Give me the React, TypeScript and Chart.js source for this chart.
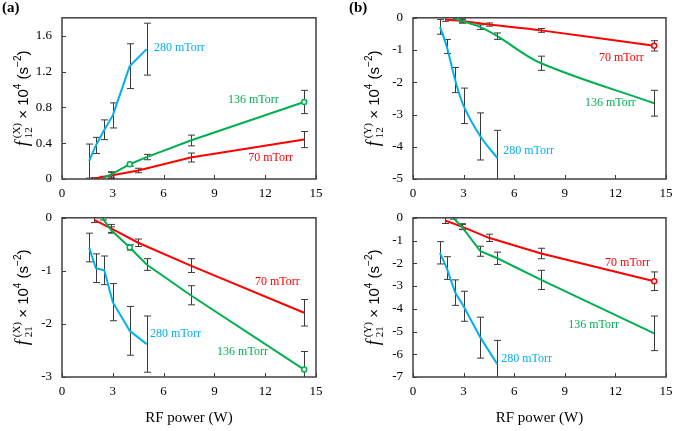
import React, { useEffect, useRef } from "react";
import { Chart, registerables } from "chart.js";
Chart.register(...registerables);

// ---- Data ----
const X_70 = [1.9, 2.9, 4.5, 7.6, 14.3];
const X_136 = [2.4, 2.9, 4, 5, 7.6, 14.3];
const X_280 = [1.6, 2, 2.5, 3, 4, 5];
const X_TICKS = [0, 3, 6, 9, 12, 15];
const SERIES_NAMES = ["70 mTorr", "136 mTorr", "280 mTorr"];

// (a) top: f12(X)
const F12X_70 = [0.005, 0.04, 0.095, 0.24, 0.44];
const F12X_70_ERR = [0.01, 0.035, 0.025, 0.05, 0.09];
const F12X_136 = [0.01, 0.05, 0.165, 0.245, 0.43, 0.86];
const F12X_136_ERR = [0.02, 0.03, 0.02, 0.03, 0.06, 0.13];
const F12X_280 = [0.2, 0.375, 0.55, 0.71, 1.26, 1.45];
const F12X_280_ERR = [0.19, 0.09, 0.11, 0.14, 0.25, 0.29];

// (b) top: f12(Y)
const F12Y_70 = [-0.05, -0.1, -0.21, -0.39, -0.87];
const F12Y_70_ERR = [0.06, 0.06, 0.05, 0.06, 0.16];
const F12Y_136 = [-0.02, -0.1, -0.29, -0.57, -1.41, -2.65];
const F12Y_136_ERR = [0.04, 0.06, 0.07, 0.1, 0.22, 0.4];
const F12Y_280 = [-0.28, -0.89, -1.93, -2.73, -3.68, -4.35];
const F12Y_280_ERR = [0.23, 0.22, 0.39, 0.55, 0.73, 0.86];

// (a) bottom: f21(X)
const F21X_70 = [-0.04, -0.2, -0.47, -0.9, -1.79];
const F21X_70_ERR = [0.05, 0.075, 0.07, 0.13, 0.25];
const F21X_136 = [-0.01, -0.23, -0.56, -0.88, -1.46, -2.86];
const F21X_136_ERR = [0.03, 0.06, 0.05, 0.11, 0.18, 0.34];
const F21X_280 = [-0.56, -0.95, -0.99, -1.59, -2.13, -2.38];
const F21X_280_ERR = [0.27, 0.27, 0.27, 0.35, 0.46, 0.53];

// (b) bottom: f21(Y)
const F21Y_70 = [-0.12, -0.39, -0.88, -1.57, -2.79];
const F21Y_70_ERR = [0.13, 0.13, 0.16, 0.23, 0.41];
const F21Y_136 = [-0.01, -0.4, -1.47, -1.78, -2.73, -5.08];
const F21Y_136_ERR = [0.05, 0.1, 0.22, 0.27, 0.42, 0.76];
const F21Y_280 = [-1.54, -2.21, -3.29, -3.89, -5.27, -6.44];
const F21Y_280_ERR = [0.49, 0.5, 0.56, 0.66, 0.9, 1.05];

// ---- Styles ----
const C70 = "#FF0000";
const C136 = "#00B050";
const C280 = "#00B0F0";
const SERIF = "'Liberation Serif', 'Times New Roman', serif";
const SANS = "'Liberation Sans', Arial, sans-serif";

type Series = {
  name: string;
  x: number[];
  y: number[];
  err: number[];
  color: string;
  markers: number[];
  labelAt: [number, number];
};

type PanelDef = {
  letter?: string;
  left: number;
  top: number;
  width: number;
  height: number;
  area: { l: number; r: number; t: number; b: number };
  yMin: number;
  yMax: number;
  yStep: number;
  smooth: boolean;
  xTitle: boolean;
  sup: string;
  sub: string;
  series: Series[];
};

const mk = (name: string, x: number[], y: number[], err: number[], color: string, markers: number[], labelAt: [number, number]): Series => ({ name, x, y, err, color, markers, labelAt });

const PANELS: PanelDef[] = [
  {
    letter: "(a)", left: 0, top: 0, width: 340, height: 200,
    area: { l: 62, r: 316, t: 11, b: 179 },
    yMin: 0, yMax: 1.8, yStep: 0.4, smooth: false, xTitle: false, sup: "(X)", sub: "12",
    series: [
      mk(SERIES_NAMES[2], X_280, F12X_280, F12X_280_ERR, C280, [], [5.43, 1.46]),
      mk(SERIES_NAMES[1], X_136, F12X_136, F12X_136_ERR, C136, [2, 5], [9.8, 0.88]),
      mk(SERIES_NAMES[0], X_70, F12X_70, F12X_70_ERR, C70, [], [11.0, 0.236]),
    ],
  },
  {
    letter: "(b)", left: 340, top: 0, width: 345, height: 200,
    area: { l: 73, r: 326, t: 11, b: 179 },
    yMin: -5, yMax: 0, yStep: 1, smooth: true, xTitle: false, sup: "(Y)", sub: "12",
    series: [
      mk(SERIES_NAMES[2], X_280, F12Y_280, F12Y_280_ERR, C280, [], [5.35, -4.14]),
      mk(SERIES_NAMES[1], X_136, F12Y_136, F12Y_136_ERR, C136, [], [10.2, -2.65]),
      mk(SERIES_NAMES[0], X_70, F12Y_70, F12Y_70_ERR, C70, [4], [11.03, -1.25]),
    ],
  },
  {
    left: 0, top: 200, width: 340, height: 231,
    area: { l: 62, r: 316, t: 9, b: 177 },
    yMin: -3, yMax: 0, yStep: 1, smooth: false, xTitle: true, sup: "(X)", sub: "21",
    series: [
      mk(SERIES_NAMES[2], X_280, F21X_280, F21X_280_ERR, C280, [], [5.2, -2.19]),
      mk(SERIES_NAMES[1], X_136, F21X_136, F21X_136_ERR, C136, [2, 5], [9.16, -2.53]),
      mk(SERIES_NAMES[0], X_70, F21X_70, F21X_70_ERR, C70, [], [11.4, -1.21]),
    ],
  },
  {
    left: 340, top: 200, width: 345, height: 231,
    area: { l: 73, r: 326, t: 10, b: 177 },
    yMin: -7, yMax: 0, yStep: 1, smooth: false, xTitle: true, sup: "(Y)", sub: "21",
    series: [
      mk(SERIES_NAMES[2], X_280, F21Y_280, F21Y_280_ERR, C280, [], [5.23, -6.18]),
      mk(SERIES_NAMES[1], X_136, F21Y_136, F21Y_136_ERR, C136, [], [9.2, -4.7]),
      mk(SERIES_NAMES[0], X_70, F21Y_70, F21Y_70_ERR, C70, [4], [11.39, -1.97]),
    ],
  },
];

function fmt(v: number) {
  if (Math.abs(v) < 1e-9) return "0";
  return String(parseFloat(v.toFixed(2)));
}

function drawYTitle(ctx: CanvasRenderingContext2D, cx: number, cy: number, sup: string, sub: string) {
  const mainF = `15px ${SANS}`;
  const fF = `italic 18px ${SERIF}`;
  const scriptF = `11px ${SERIF}`;
  const smallF = `10px ${SANS}`;
  ctx.save();
  ctx.translate(cx, cy);
  ctx.rotate(-Math.PI / 2);
  ctx.fillStyle = "#000";
  ctx.textBaseline = "alphabetic";
  ctx.textAlign = "left";
  const measure = (t: string, f: string) => { ctx.font = f; return ctx.measureText(t).width; };
  const wf = measure("f", fF);
  const wScript = Math.max(measure(sup, scriptF), measure(sub, scriptF));
  const parts: [string, string, number][] = [
    [" \u00D7 10", mainF, 0],
    ["4", smallF, -7],
    [" (s", mainF, 0],
    ["\u22122", smallF, -7],
    [")", mainF, 0],
  ];
  let total = wf + 3 + wScript;
  for (const p of parts) total += measure(p[0], p[1]);
  let x = -total / 2;
  const base = 5;
  ctx.font = fF;
  ctx.fillText("f", x, base);
  x += wf + 3;
  ctx.font = scriptF;
  ctx.fillText(sup, x, base - 8);
  ctx.fillText(sub, x, base + 4);
  x += wScript;
  for (const p of parts) {
    ctx.font = p[1];
    ctx.fillText(p[0], x, base + p[2]);
    x += ctx.measureText(p[0]).width;
  }
  ctx.restore();
}

function Panel({ def }: { def: PanelDef }) {
  const ref = useRef<HTMLCanvasElement | null>(null);
  useEffect(() => {
    const canvas = ref.current;
    if (!canvas) return;
    const { area } = def;
    const overlay = {
      id: "overlay",
      beforeDatasetsDraw(chart: any) {
        const ctx: CanvasRenderingContext2D = chart.ctx;
        const ca = chart.chartArea;
        const xs = chart.scales.x;
        const ys = chart.scales.y;
        ctx.save();
        ctx.beginPath();
        ctx.rect(ca.left, ca.top, ca.right - ca.left, ca.bottom - ca.top);
        ctx.clip();
        ctx.strokeStyle = "#3a3a3a";
        ctx.lineWidth = 1;
        for (const s of def.series) {
          s.x.forEach((xv, i) => {
            const px = Math.round(xs.getPixelForValue(xv)) + 0.5;
            const y1 = ys.getPixelForValue(s.y[i] + s.err[i]);
            const y2 = ys.getPixelForValue(s.y[i] - s.err[i]);
            ctx.beginPath();
            ctx.moveTo(px, y1);
            ctx.lineTo(px, y2);
            ctx.moveTo(px - 3.5, y1);
            ctx.lineTo(px + 3.5, y1);
            ctx.moveTo(px - 3.5, y2);
            ctx.lineTo(px + 3.5, y2);
            ctx.stroke();
          });
        }
        ctx.restore();
      },
      afterDraw(chart: any) {
        const ctx: CanvasRenderingContext2D = chart.ctx;
        const ca = chart.chartArea;
        const xs = chart.scales.x;
        const ys = chart.scales.y;
        ctx.save();
        // inward ticks
        ctx.strokeStyle = "#3a3a3a";
        ctx.lineWidth = 1;
        for (const t of ys.ticks) {
          const py = Math.round(ys.getPixelForValue(t.value)) + 0.5;
          ctx.beginPath();
          ctx.moveTo(ca.left, py);
          ctx.lineTo(ca.left + 4, py);
          ctx.stroke();
        }
        for (const t of xs.ticks) {
          const px = Math.round(xs.getPixelForValue(t.value)) + 0.5;
          ctx.beginPath();
          ctx.moveTo(px, ca.bottom);
          ctx.lineTo(px, ca.bottom - 4);
          ctx.stroke();
        }
        // frame
        ctx.strokeStyle = "#404040";
        ctx.lineWidth = 1.5;
        ctx.strokeRect(ca.left, ca.top, ca.right - ca.left, ca.bottom - ca.top);
        // series labels
        ctx.font = `12px ${SERIF}`;
        ctx.textAlign = "left";
        ctx.textBaseline = "middle";
        for (const s of def.series) {
          ctx.fillStyle = s.color;
          ctx.fillText(s.name, xs.getPixelForValue(s.labelAt[0]), ys.getPixelForValue(s.labelAt[1]));
        }
        // panel letter
        if (def.letter) {
          ctx.fillStyle = "#000";
          ctx.font = `bold 15px ${SERIF}`;
          ctx.textAlign = "left";
          ctx.textBaseline = "middle";
          ctx.fillText(def.letter, def.left === 0 ? 2 : 9, 8);
        }
        // x title
        if (def.xTitle) {
          ctx.fillStyle = "#000";
          ctx.font = `15px ${SERIF}`;
          ctx.textAlign = "center";
          ctx.textBaseline = "middle";
          ctx.fillText("RF power (W)", (ca.left + ca.right) / 2, ca.bottom + 41);
        }
        // y title
        drawYTitle(ctx, ca.left - 39, (ca.top + ca.bottom) / 2, def.sup, def.sub);
        ctx.restore();
      },
    };
    const tickFont = { family: SERIF, size: 13 };
    const chart = new Chart(canvas, {
      type: "line",
      data: {
        datasets: def.series.map((s) => ({
          label: s.name,
          data: s.x.map((x, i) => ({ x, y: s.y[i] })),
          borderColor: s.color,
          backgroundColor: "#ffffff",
          borderWidth: 2,
          pointRadius: s.x.map((_, i) => (s.markers.includes(i) ? 2.5 : 0)),
          pointBorderWidth: 1.5,
          pointBorderColor: s.color,
          pointBackgroundColor: "#ffffff",
          tension: def.smooth ? 0.35 : 0,
          fill: false,
        })),
      },
      options: {
        animation: false,
        responsive: false,
        maintainAspectRatio: false,
        devicePixelRatio: 1,
        layout: { padding: { top: area.t, right: def.width - area.r, left: 0, bottom: 0 } },
        plugins: { legend: { display: false }, tooltip: { enabled: false } },
        scales: {
          x: {
            type: "linear",
            min: 0,
            max: 15,
            grid: { display: false, drawTicks: false },
            border: { display: false },
            ticks: { stepSize: 3, padding: 7, font: tickFont, color: "#000", maxRotation: 0, autoSkip: false, callback: (v: any) => fmt(Number(v)) },
            afterBuildTicks: (s: any) => { s.ticks = X_TICKS.map((v) => ({ value: v })); },
            afterFit: (s: any) => { s.height = def.height - area.b; },
          },
          y: {
            type: "linear",
            min: def.yMin,
            max: def.yMax,
            grid: { display: false, drawTicks: false },
            border: { display: false },
            ticks: { stepSize: def.yStep, padding: 10, font: tickFont, color: "#000", autoSkip: false, callback: (v: any) => fmt(Number(v)) },
            afterBuildTicks: (s: any) => {
              s.ticks = s.ticks.filter((t: any) => {
                const k = t.value / def.yStep;
                return Math.abs(k - Math.round(k)) < 1e-6;
              });
            },
            afterFit: (s: any) => { s.width = area.l; },
          },
        },
      } as any,
      plugins: [overlay],
    });
    return () => chart.destroy();
  }, [def]);
  return (
    <canvas
      ref={ref}
      width={def.width}
      height={def.height}
      style={{ position: "absolute", left: def.left, top: def.top, width: def.width, height: def.height }}
    />
  );
}

export default function App() {
  return (
    <div style={{ position: "fixed", left: 0, top: 0, width: 685, height: 431, background: "#fff" }}>
      {PANELS.map((p, i) => (
        <Panel key={i} def={p} />
      ))}
    </div>
  );
}
